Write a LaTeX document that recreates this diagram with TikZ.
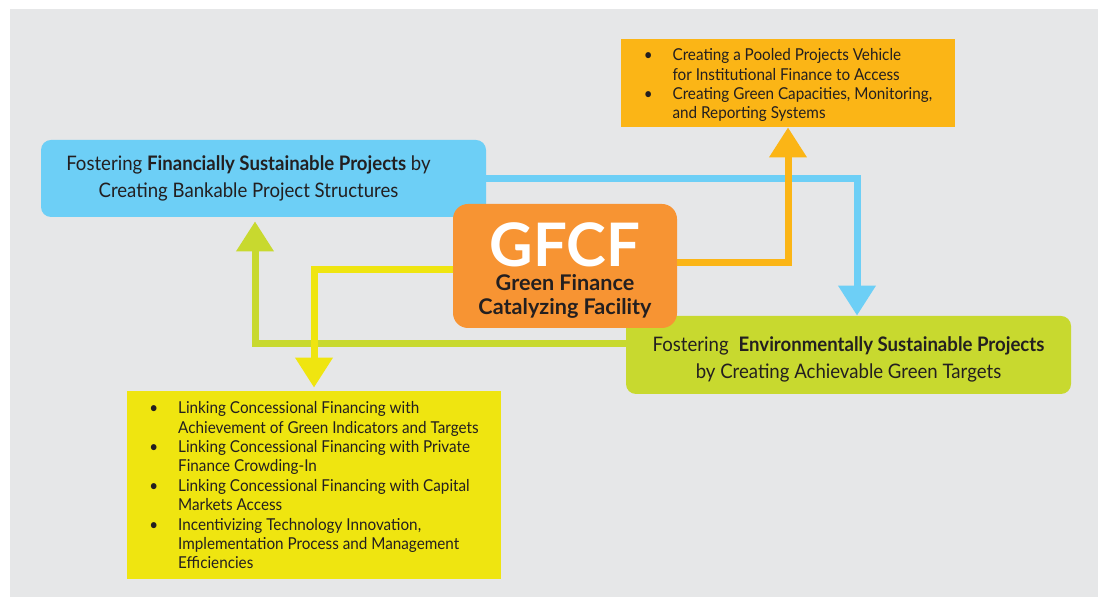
\documentclass[tikz,border=0pt]{standalone}
\usepackage{fontspec}
\setmainfont{Lato}[FakeStretch=0.93]
\newfontfamily\facilityfont{Lato}
\usetikzlibrary{arrows.meta}

\definecolor{bggray}{HTML}{E6E7E8}
\definecolor{skyblue}{HTML}{6DCFF6}
\definecolor{limegreen}{HTML}{C8D92F}
\definecolor{amber}{HTML}{FBB516}
\definecolor{lemon}{HTML}{EFE510}
\definecolor{tangerine}{HTML}{F79433}
\definecolor{ink}{HTML}{231F20}

% lower the text of a node without changing the size it reports
\newcommand{\lowered}[2]{\raisebox{-#1}[\height][\depth]{#2}}

\tikzset{
	box/.style={inner sep=0pt, text=ink, align=center},
	plaintext/.style={font=\fontsize{10}{13.5}\selectfont},
	listtext/.style={font=\fontsize{8.2}{9.7}\selectfont},
	flow/.style={line width=3.5pt, draw=#1, -{Triangle[width=18pt,length=15pt]}},
}

\begin{document}
\begin{tikzpicture}[x=0.5pt,y=-0.5pt]
	\useasboundingbox (0,0) rectangle (1098,597);
	\fill [bggray] (10,9) rectangle (1098,597);

	% the two project boxes
	\node [box, plaintext, fill=skyblue, rounded corners=5pt, minimum width=222.5pt, minimum height=38.5pt] (fin) at (263.5,178.5)
		{\begin{tabular}{@{}c@{\hspace{15pt}}}Fostering \textbf{Financially Sustainable Projects} by\\Creating Bankable Project Structures\end{tabular}};
	\node [box, plaintext, fill=limegreen, rounded corners=5pt, minimum width=222.5pt, minimum height=39pt] (env) at (848.5,355)
		{\lowered{2.5pt}{\begin{tabular}{@{}c@{}}Fostering\enspace\textbf{Environmentally Sustainable Projects}\\by Creating Achievable Green Targets\end{tabular}}};

	% the two lists
	\node [box, listtext, fill=amber, minimum width=167pt, minimum height=44pt] (pool) at (788,83)
		{\lowered{1.5pt}{\begin{tabular}{@{}l@{\hspace{10pt}}l@{}}
		\textbullet & Creating a Pooled Projects Vehicle\\
		 & for Institutional Finance to Access\\
		\textbullet & Creating Green Capacities, Monitoring,\\
		 & and Reporting Systems
		\end{tabular}}};
	\node [box, listtext, fill=lemon, minimum width=187pt, minimum height=94pt] (note) at (314,485)
		{\lowered{1.25pt}{\begin{tabular}{@{}l@{\hspace{10pt}}l@{}}
		\textbullet & Linking Concessional Financing with\\
		 & Achievement of Green Indicators and Targets\\
		\textbullet & Linking Concessional Financing with Private\\
		 & Finance Crowding-In\\
		\textbullet & Linking Concessional Financing with Capital\\
		 & Markets Access\\
		\textbullet & Incentivizing Technology Innovation,\\
		 & Implementation Process and Management\\
		 & Efficiencies
		\end{tabular}}};

	% the facility in the middle
	\node [box, fill=tangerine, rounded corners=7.5pt, minimum width=112pt, minimum height=62pt,
		font=\facilityfont\bfseries] (gfcf) at (565,266)
		{\lowered{3.25pt}{\begin{tabular}{@{}c@{}}{\fontsize{30}{30}\selectfont\color{white}GFCF}\\
		\fontsize{10.8}{12.5}\selectfont Green Finance\\
		\fontsize{10.8}{12.5}\selectfont Catalyzing Facility\end{tabular}}};

	\draw [flow=skyblue] (fin.east) -| ([xshift=4.25pt]env.north);
	\draw [flow=limegreen] ([yshift=5.5pt]env.west) -| ([xshift=-4.25pt,yshift=-2pt]fin.south);
	\draw [flow=amber] ([yshift=1.5pt]gfcf.east) -| (pool.south);
	\draw [flow=lemon] ([yshift=-2pt]gfcf.west) -| ([yshift=1.5pt]note.north);
\end{tikzpicture}
\end{document}
